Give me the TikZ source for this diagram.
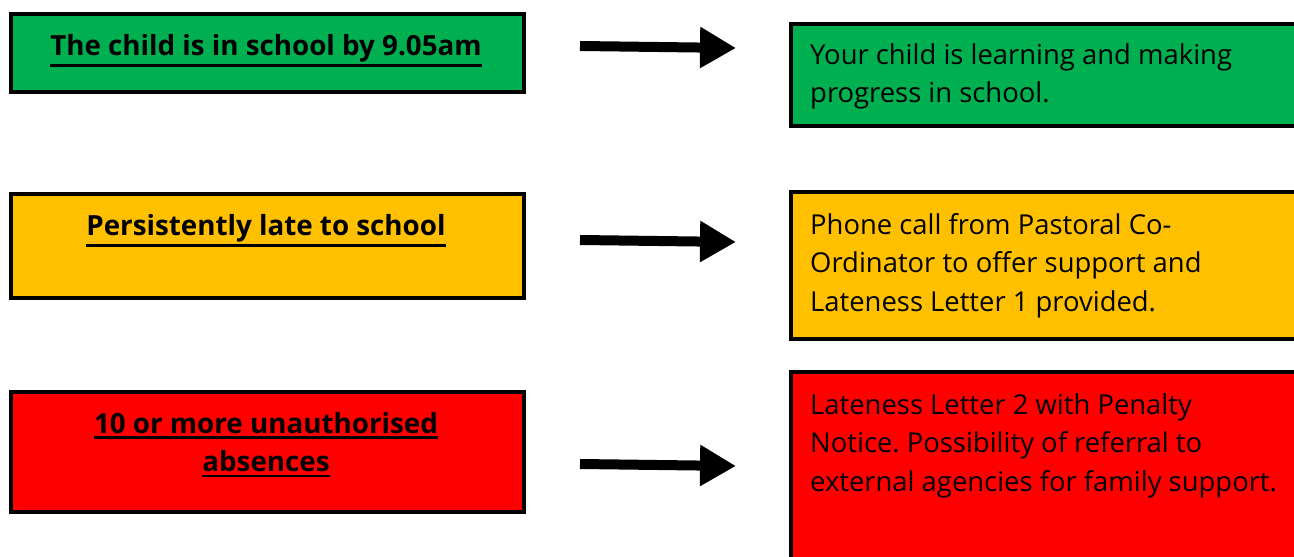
\documentclass[tikz,border=0pt]{standalone}
\usepackage{fontspec}
\setmainfont{Open Sans}
\usetikzlibrary{arrows.meta, positioning}
\definecolor{okgreen}{HTML}{00B050}
\definecolor{warnamber}{HTML}{FFC000}
\definecolor{alertred}{HTML}{FF0000}
\newcommand{\thickul}[1]{\leavevmode\vtop{\hbox{#1}\kern1.4pt\hrule height 1.5pt}}
\frenchspacing

\begin{document}
\begin{tikzpicture}[
    x=0.02cm, y=-0.02cm,
    box/.style={
        draw=black,
        line width=2.3pt,
        anchor=north west,
        inner sep=0pt
    },
    title/.style={
        font=\fontsize{15.8}{22}\selectfont\bfseries,
        align=center,
        anchor=north
    },
    body/.style={
        font=\fontsize{15.6}{22}\selectfont,
        align=left,
        anchor=north west
    },
    arrow/.style={
        -{Triangle[length=0.72cm, width=0.78cm]},
        line width=0.2cm,
        color=black
    }
]
\useasboundingbox (0,0) rectangle (1294,557);
\clip (0,0) rectangle (1294,557);

% Causes (left)
\node[box, fill=okgreen, minimum width=0.02*513cm, minimum height=0.02*78cm] (a1) at (9,12) {};
\node[box, fill=warnamber, minimum width=0.02*513cm, minimum height=0.02*104cm] (a2) at (9,192) {};
\node[box, fill=alertred, minimum width=0.02*513cm, minimum height=0.02*120cm] (a3) at (9,390) {};

\node[title] (t1) at (266,28) {\thickul{The child is in school by 9.05am}};
\node[title] (t2) at (266,208) {\thickul{Persistently late to school}};
\node[title] (t3) at (266,406) {\thickul{10 or more unauthorised}\\\thickul{absences}};

% Outcomes (right)
\node[box, fill=okgreen, minimum width=0.02*560cm, minimum height=0.02*102cm] (r1) at (789,22) {};
\node[box, fill=warnamber, minimum width=0.02*560cm, minimum height=0.02*147cm] (r2) at (789,190) {};
\node[box, fill=alertred, minimum width=0.02*560cm, minimum height=0.02*240cm] (r3) at (789,370) {};

\node[body] (o1) at (804,37) {Your child is learning and making\\progress in school.};
\node[body] (o2) at (804,207) {Phone call from Pastoral Co-\\Ordinator to offer support and\\Lateness Letter 1 provided.};
\node[body] (o3) at (804,387) {Lateness Letter 2 with Penalty\\Notice. Possibility of referral to\\external agencies for family support.};

% Arrows
\coordinate (s1) at (580,46);
\coordinate (e1) at (736,48);
\coordinate (s2) at (580,240);
\coordinate (e2) at (736,242);
\coordinate (s3) at (580,464);
\coordinate (e3) at (736,466);
\draw[arrow] (s1) -- (e1);
\draw[arrow] (s2) -- (e2);
\draw[arrow] (s3) -- (e3);

\end{tikzpicture}
\end{document}
